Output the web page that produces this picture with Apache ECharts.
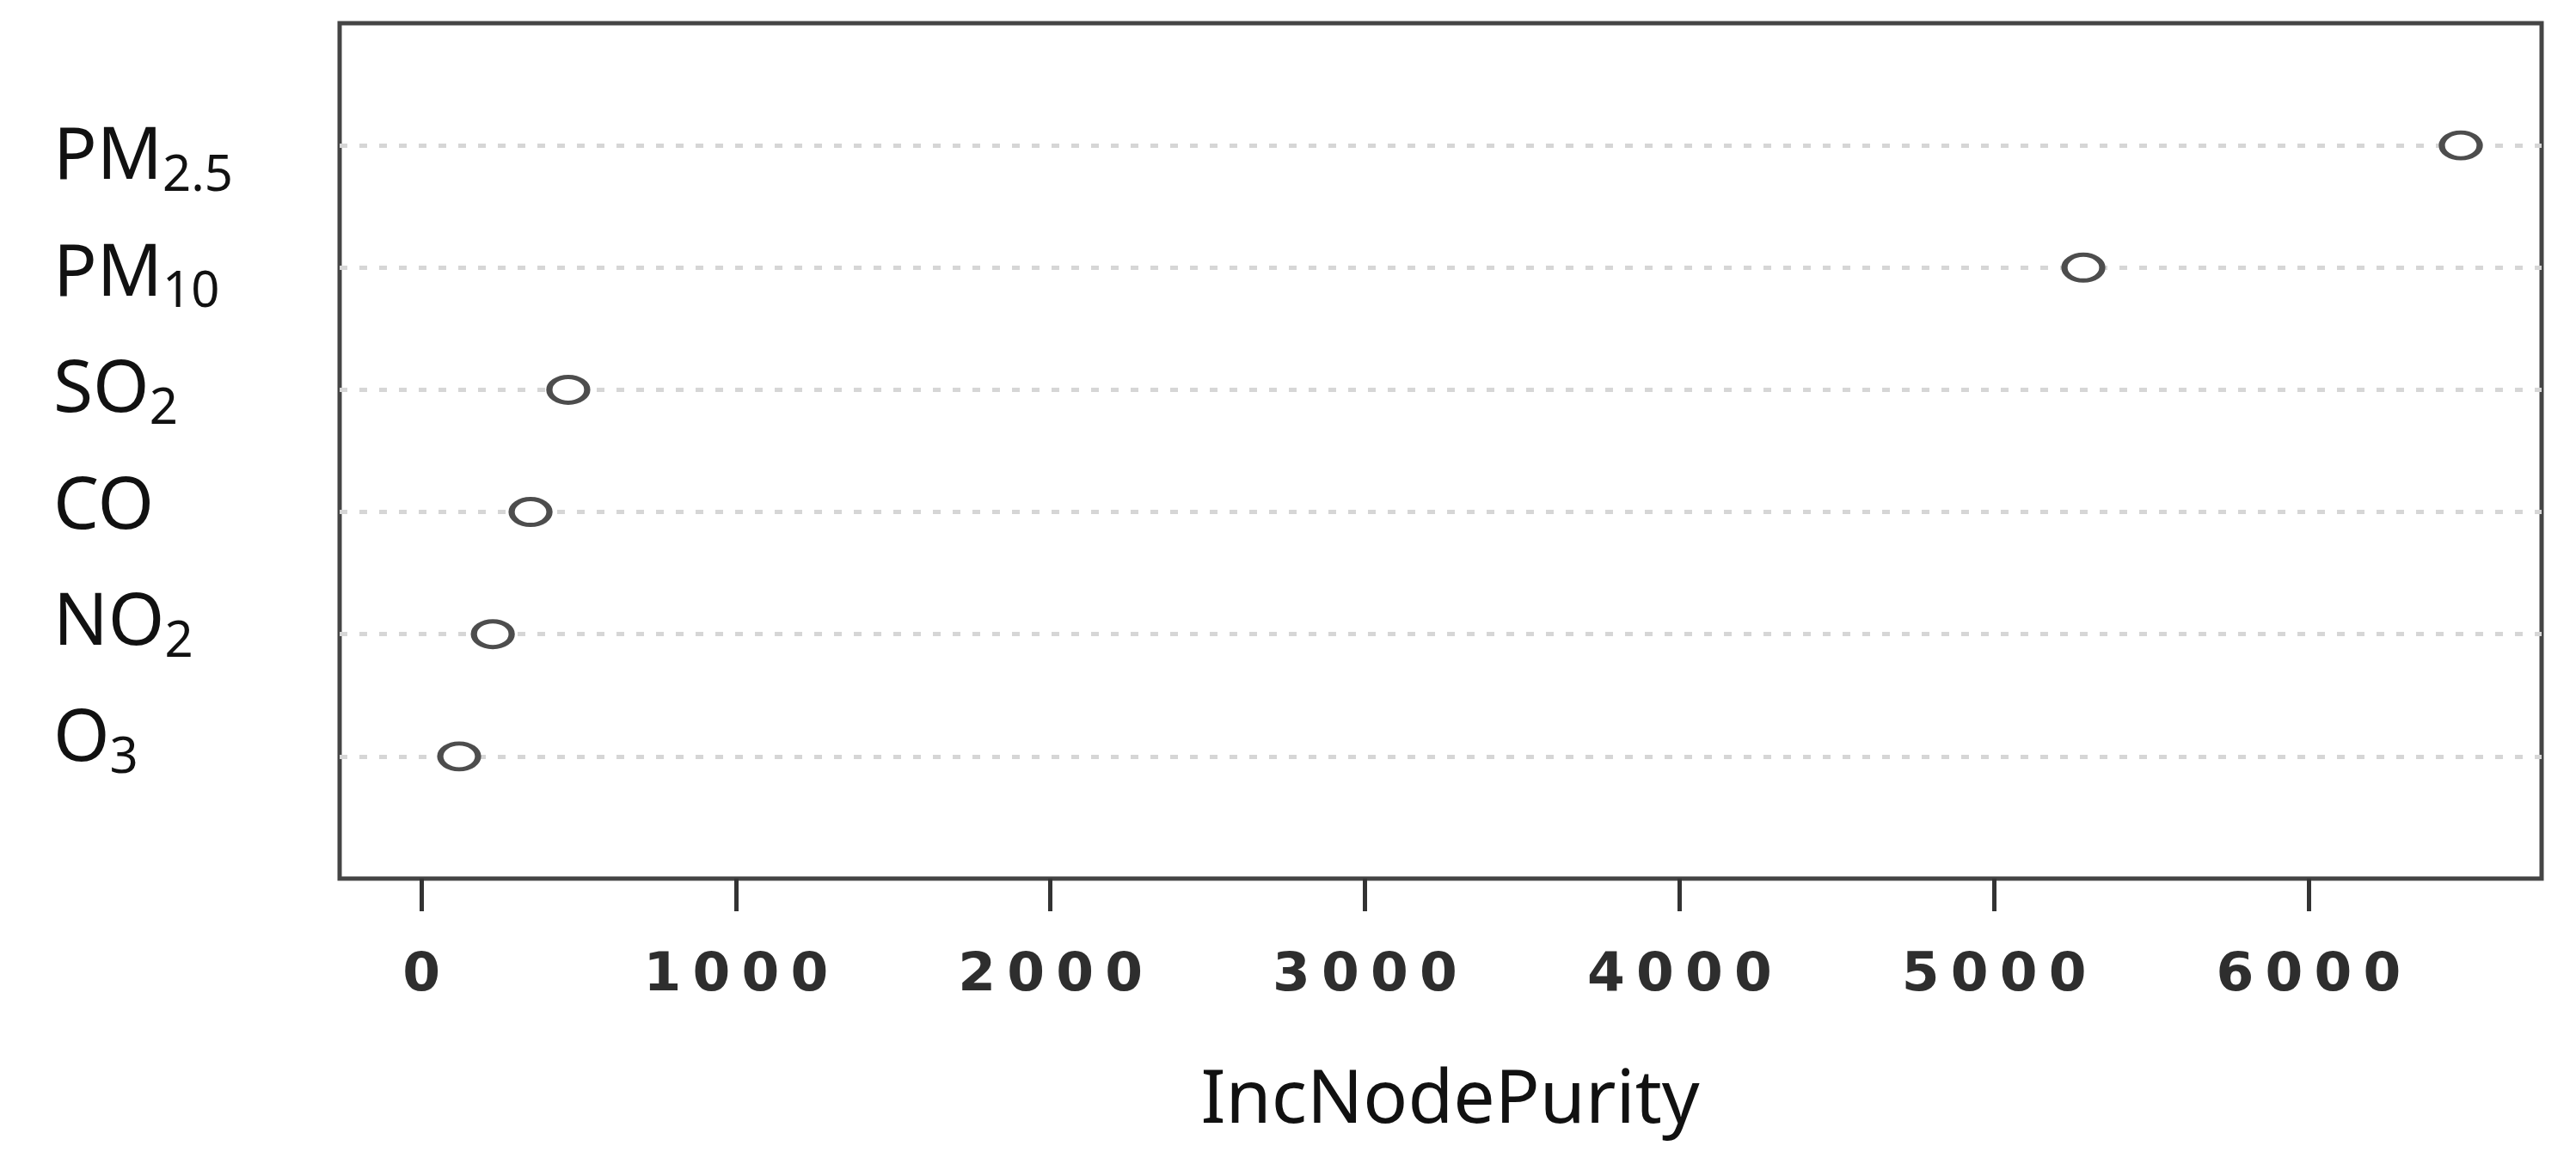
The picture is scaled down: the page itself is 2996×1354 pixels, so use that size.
<!DOCTYPE html>
<html>
<head>
<meta charset="utf-8">
<script src="https://cdn.jsdelivr.net/npm/echarts@6/dist/echarts.min.js"></script>
<style>
  html, body { margin: 0; padding: 0; background: #fff; }
  #chart { width: 2996px; height: 1354px; }
</style>
</head>
<body>
<div id="chart"></div>
<script>
// variable importance (top to bottom)
const categories = ['PM2.5', 'PM10', 'SO2', 'CO', 'NO2', 'O3']
const incNodePurity = [6484, 5284, 467, 347, 227, 120]
const xTicks = [0, 1000, 2000, 3000, 4000, 5000, 6000]

const n = categories.length
const rowValues = categories.map((c, i) => n - i) // 1 = bottom row

// split "PM2.5" -> "PM" + "2.5", "SO2" -> "SO" + "2"
function formula (name) {
  const m = name.match(/^([A-Z]+)(.*)$/)
  return m[2] ? '{m|' + m[1] + '}{s|' + m[2] + '}' : '{m|' + m[1] + '}'
}

const chart = echarts.init(document.getElementById('chart'))

const option = {
  backgroundColor: '#fff',
  animation: false,
  grid: {
    left: 395,
    right: 40,
    top: 27,
    bottom: 332,
    show: true,
    borderColor: '#454545',
    borderWidth: 5,
    backgroundColor: '#fff'
  },
  xAxis: {
    type: 'value',
    min: -260,
    max: 6741,
    name: 'IncNodePurity',
    nameLocation: 'middle',
    nameGap: 216,
    nameTextStyle: {
      fontFamily: 'Noto Sans',
      fontSize: 86,
      color: '#111',
      padding: [0, 0, 0, 22]
    },
    axisLine: { show: false },
    splitLine: { show: false },
    axisTick: {
      show: true,
      customValues: xTicks,
      length: 38,
      lineStyle: { color: '#333', width: 5 }
    },
    axisLabel: {
      customValues: xTicks,
      margin: 82,
      formatter: function (v) {
        return String(v).split('').map(d => '{d|' + d + '}').join('')
      },
      rich: {
        d: {
          fontFamily: 'DejaVu Sans',
          fontWeight: 'bold',
          fontSize: 63,
          color: '#2e2e2e',
          width: 57,
          align: 'center'
        }
      }
    }
  },
  yAxis: [
    {
      // rows: points + dotted guide lines
      type: 'value',
      min: 0,
      max: n + 1,
      interval: 1,
      axisLine: { show: false },
      axisTick: { show: false },
      axisLabel: { show: false },
      splitLine: {
        show: true,
        showMinLine: false,
        showMaxLine: false,
        lineStyle: { color: '#d6d6d6', width: 5, type: [9, 14] }
      }
    },
    {
      // row labels
      type: 'value',
      position: 'left',
      min: -0.186,
      max: 7.163,
      axisLine: { show: false },
      axisTick: { show: false },
      splitLine: { show: false },
      axisLabel: {
        customValues: rowValues,
        align: 'left',
        margin: 333,
        formatter: function (v) {
          return formula(categories[n - v])
        },
        rich: {
          m: {
            fontFamily: 'Noto Sans',
            fontSize: 84,
            lineHeight: 100,
            color: '#111'
          },
          s: {
            fontFamily: 'Noto Sans',
            fontSize: 58,
            lineHeight: 56,
            verticalAlign: 'bottom',
            color: '#111'
          }
        }
      }
    }
  ],
  series: [
    {
      type: 'scatter',
      yAxisIndex: 0,
      data: incNodePurity.map((v, i) => [v, rowValues[i]]),
      symbol: 'circle',
      symbolSize: [44, 30],
      itemStyle: {
        color: '#fff',
        borderColor: '#4d4d4d',
        borderWidth: 6,
        opacity: 1
      },
      z: 5
    }
  ]
}

chart.setOption(option)
</script>
</body>
</html>
